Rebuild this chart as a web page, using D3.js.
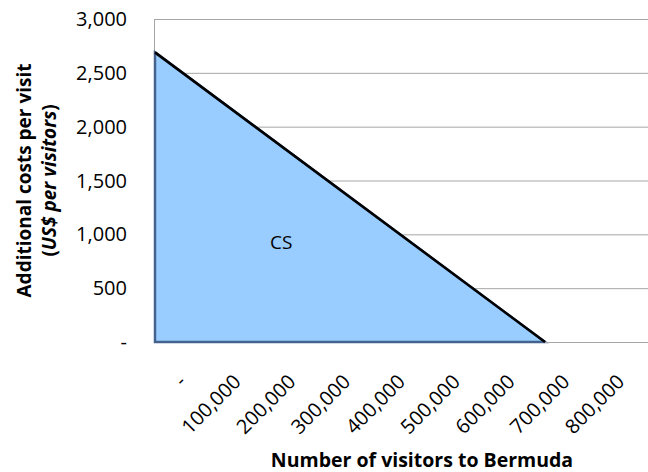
<!DOCTYPE html>
<html>
<head>
<meta charset="utf-8">
<script src="https://cdn.jsdelivr.net/npm/d3@7"></script>
<style>
  body { margin: 0; background: #fff; }
  svg text { font-family: "Open Sans", Lato, sans-serif; fill: #000; }
</style>
</head>
<body>
<div id="chart"></div>
<script>
// demand curve (visitors, US$ per visit)
var curveX = [0, 712000];
var curveY = [2690, 0];
var xLabels = ["-", "100,000", "200,000", "300,000", "400,000", "500,000", "600,000", "700,000", "800,000"];
var yTicks = [0, 500, 1000, 1500, 2000, 2500, 3000];
var areaLabel = { text: "CS", x: 210000, y: 1000 };

function drawDemandChart() {
    var W = 648, H = 472;
    var margin = {top: 19, right: 0, bottom: 130, left: 155};
    var width = W - margin.left - margin.right;
    var height = H - margin.top - margin.bottom;

    var svg = d3.select("#chart").append("svg")
        .attr("width", W)
        .attr("height", H)
        .append("g")
        .attr("transform", "translate(" + margin.left + "," + margin.top + ")");

    var xBand = d3.scaleBand().domain(xLabels).range([0, width]).padding(0);
    // value scale spans the same width: one band = 100,000 visitors
    var x = d3.scaleLinear().domain([0, xLabels.length * 100000]).range([0, width]);
    var y = d3.scaleLinear().domain([0, 3000]).range([height, 0]);

    // gridlines
    svg.append("g")
        .selectAll("line")
        .data(yTicks.filter(function(d) { return d > 0; }))
        .enter().append("line")
        .attr("x1", 0).attr("x2", width)
        .attr("y1", function(d) { return y(d) + 0.5; })
        .attr("y2", function(d) { return y(d) + 0.5; })
        .attr("stroke", "#a6a6a6")
        .attr("stroke-width", 1);

    // y axis line
    svg.append("line")
        .attr("x1", -0.5).attr("x2", -0.5)
        .attr("y1", 0).attr("y2", height)
        .attr("stroke", "#a6a6a6");

    var pts = curveX.map(function(v, i) { return [v, curveY[i]]; });

    var area = d3.area()
        .x(function(d) { return x(d[0]); })
        .y0(y(0))
        .y1(function(d) { return y(d[1]); });

    svg.append("path")
        .datum(pts)
        .attr("d", area)
        .attr("fill", "#99ccff")
        .attr("stroke", "#44648f")
        .attr("stroke-width", 2.5);

    // x axis line
    svg.append("line")
        .attr("x1", x(curveX[1])).attr("x2", width)
        .attr("y1", height + 0.5).attr("y2", height + 0.5)
        .attr("stroke", "#a6a6a6");

    var line = d3.line()
        .x(function(d) { return x(d[0]); })
        .y(function(d) { return y(d[1]); });

    svg.append("path")
        .datum(pts)
        .attr("d", line)
        .attr("fill", "none")
        .attr("stroke", "#000")
        .attr("stroke-width", 2.5);

    svg.append("text")
        .attr("x", x(areaLabel.x))
        .attr("y", y(areaLabel.y) + 15)
        .style("font-size", "19px")
        .text(areaLabel.text);

    // y tick labels
    svg.append("g")
        .selectAll("text")
        .data(yTicks)
        .enter().append("text")
        .attr("x", -28)
        .attr("y", function(d) { return y(d); })
        .attr("dy", "0.35em")
        .attr("text-anchor", "end")
        .style("font-size", "20px")
        .text(function(d) { return d === 0 ? "-" : d3.format(",")(d); });

    // x tick labels, rotated
    svg.append("g")
        .selectAll("text")
        .data(xLabels)
        .enter().append("text")
        .attr("transform", function(d) {
            return "translate(" + (xBand(d) + xBand.bandwidth() / 2) + "," + (height + 36) + ") rotate(-45)";
        })
        .attr("text-anchor", "end")
        .attr("dy", "0.35em")
        .style("font-size", "20px")
        .text(function(d) { return d; });

    // axis titles
    svg.append("text")
        .attr("x", 267)
        .attr("y", height + 125)
        .attr("text-anchor", "middle")
        .style("font-size", "19.5px")
        .style("font-weight", "700")
        .text("Number of visitors to Bermuda");

    var yt = svg.append("text")
        .attr("transform", "translate(" + (-124) + "," + (height / 2) + ") rotate(-90)")
        .attr("text-anchor", "middle")
        .style("font-size", "19px")
        .style("font-weight", "700");
    yt.append("tspan").attr("x", 0).attr("y", 0).text("Additional costs per visit");
    var t2 = yt.append("tspan").attr("x", 0).attr("y", 25);
    t2.append("tspan").text("(");
    t2.append("tspan").style("font-style", "italic").text("US$ per visitors");
    t2.append("tspan").text(")");
}

drawDemandChart();
</script>
</body>
</html>
